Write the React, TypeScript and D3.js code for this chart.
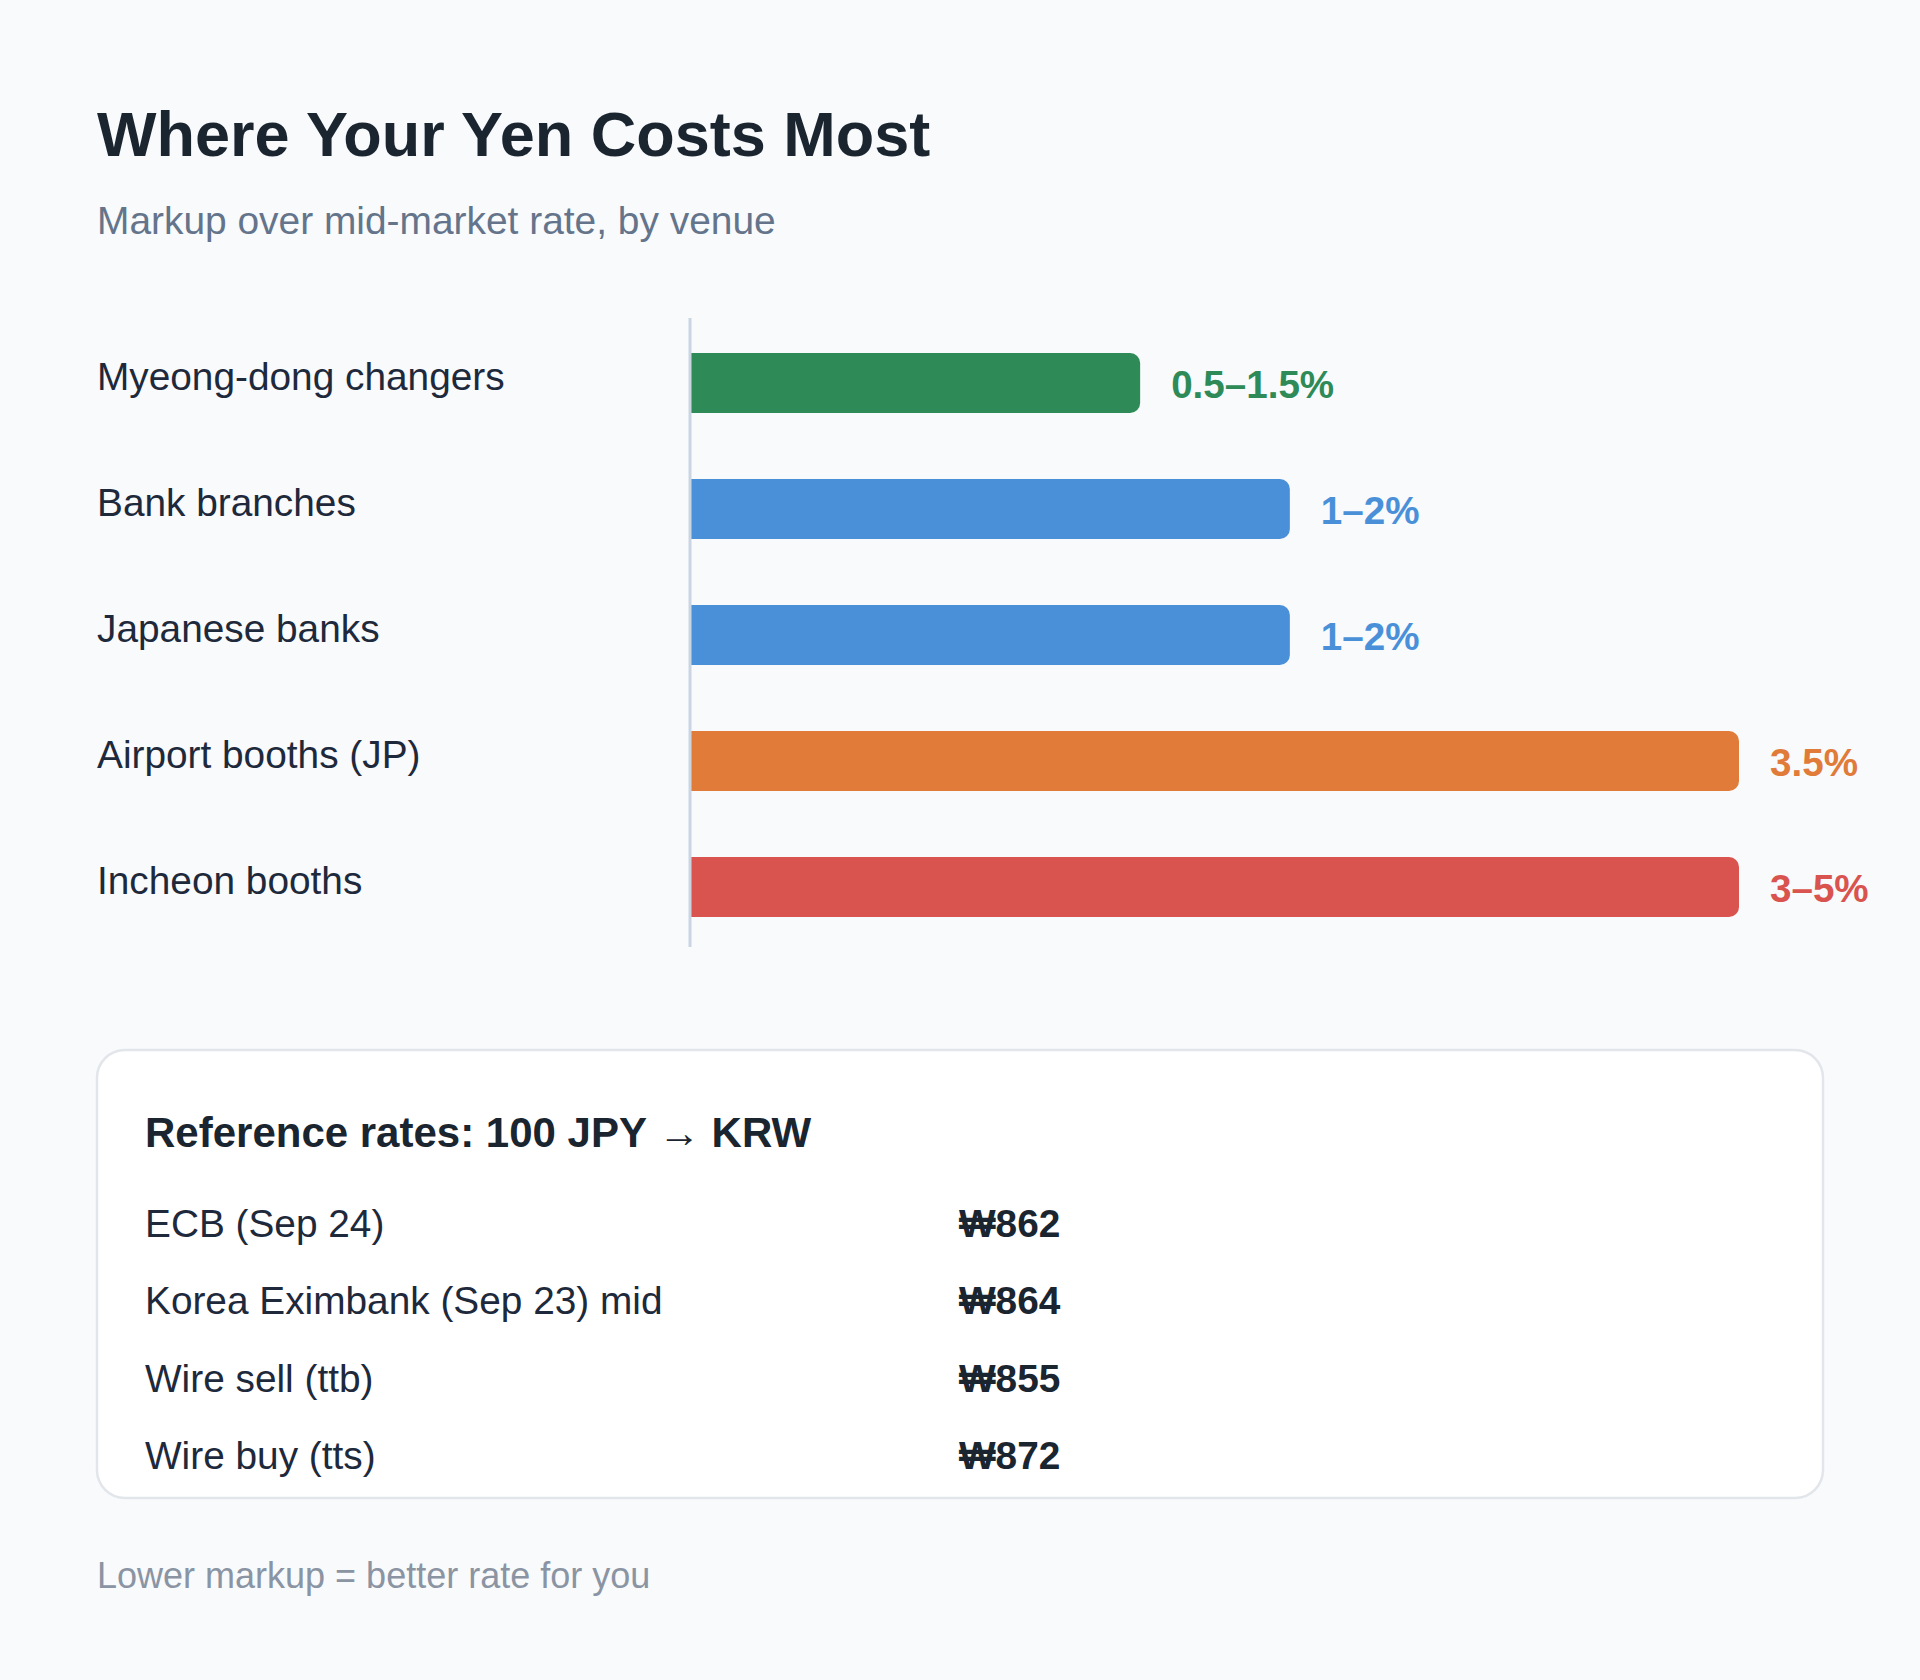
import { useEffect, useRef } from "react";
import * as d3 from "d3";

const venues = [
  "Myeong-dong changers",
  "Bank branches",
  "Japanese banks",
  "Airport booths (JP)",
  "Incheon booths",
];
const markupLabels = ["0.5–1.5%", "1–2%", "1–2%", "3.5%", "3–5%"];
// bar length = upper end of the quoted range, capped at the 3.5% scale max
const markupValues = [1.5, 2, 2, 3.5, 3.5];
const venueColors = ["#2e8b57", "#4a90d9", "#4a90d9", "#e07b39", "#d9534f"];

const rateNames = [
  "ECB (Sep 24)",
  "Korea Eximbank (Sep 23) mid",
  "Wire sell (ttb)",
  "Wire buy (tts)",
];
const rateValues = [862, 864, 855, 872];

const FONT = "'Liberation Sans', Arial, Helvetica, sans-serif";

export default function App() {
  const svgRef = useRef<SVGSVGElement | null>(null);

  useEffect(() => {
    document.body.style.margin = "0";
    if (!svgRef.current) return;

    const width = 1920;
    const height = 1680;
    const svg = d3.select(svgRef.current);
    svg.selectAll("*").remove();
    svg.attr("viewBox", `0 0 ${width} ${height}`).attr("font-family", FONT);

    svg.append("rect").attr("width", width).attr("height", height).attr("fill", "#f8fafc");

    svg
      .append("text")
      .attr("x", 97)
      .attr("y", 156)
      .attr("font-size", 63)
      .attr("font-weight", 700)
      .attr("fill", "#1a2530")
      .text("Where Your Yen Costs Most");

    svg
      .append("text")
      .attr("x", 97)
      .attr("y", 234)
      .attr("font-size", 38.9)
      .attr("fill", "#64748b")
      .text("Markup over mid-market rate, by venue");

    // bar chart
    const y = d3.scaleBand().domain(venues).range([320, 950]);
    const x = d3.scaleLinear().domain([0, 3.5]).range([691, 1739]);
    const barH = 60;
    const rows = venues.map((v, i) => ({
      venue: v,
      label: markupLabels[i],
      value: markupValues[i],
      color: venueColors[i],
    }));

    const chart = svg.append("g");

    chart
      .selectAll("text.venue")
      .data(rows)
      .join("text")
      .attr("class", "venue")
      .attr("x", 97)
      .attr("y", (d) => (y(d.venue) ?? 0) + y.bandwidth() / 2 + 7)
      .attr("font-size", 38.8)
      .attr("fill", "#1e293b")
      .text((d) => d.venue);

    chart
      .selectAll("path.bar")
      .data(rows)
      .join("path")
      .attr("class", "bar")
      .attr("fill", (d) => d.color)
      .attr("d", (d) => {
        const x0 = x(0);
        const x1 = x(d.value);
        const y0 = (y(d.venue) ?? 0) + y.bandwidth() / 2 - barH / 2;
        const r = 10;
        const p = d3.path();
        p.moveTo(x0, y0);
        p.lineTo(x1 - r, y0);
        p.arcTo(x1, y0, x1, y0 + r, r);
        p.lineTo(x1, y0 + barH - r);
        p.arcTo(x1, y0 + barH, x1 - r, y0 + barH, r);
        p.lineTo(x0, y0 + barH);
        p.closePath();
        return p.toString();
      });

    chart
      .append("line")
      .attr("x1", x(0) - 1)
      .attr("x2", x(0) - 1)
      .attr("y1", 318)
      .attr("y2", 947)
      .attr("stroke", "#cbd5e1")
      .attr("stroke-width", 3);

    chart
      .selectAll("text.value")
      .data(rows)
      .join("text")
      .attr("class", "value")
      .attr("x", (d) => x(d.value) + 31)
      .attr("y", (d) => (y(d.venue) ?? 0) + y.bandwidth() / 2 + 15)
      .attr("font-size", 38.6)
      .attr("font-weight", 700)
      .attr("fill", (d) => d.color)
      .text((d) => d.label);

    // reference rates card
    const card = svg.append("g");
    card
      .append("rect")
      .attr("x", 97)
      .attr("y", 1050)
      .attr("width", 1726)
      .attr("height", 448)
      .attr("rx", 28)
      .attr("fill", "#ffffff")
      .attr("stroke", "#e2e5ea")
      .attr("stroke-width", 2.5);

    card
      .append("text")
      .attr("x", 145)
      .attr("y", 1147)
      .attr("font-size", 42)
      .attr("font-weight", 700)
      .attr("fill", "#1a2530")
      .text("Reference rates: 100 JPY → KRW");

    const ry = d3.scalePoint().domain(rateNames).range([1237, 1469]);
    const rates = rateNames.map((n, i) => ({ name: n, value: rateValues[i] }));

    card
      .selectAll("text.rname")
      .data(rates)
      .join("text")
      .attr("class", "rname")
      .attr("x", 145)
      .attr("y", (d) => ry(d.name) ?? 0)
      .attr("font-size", 38.8)
      .attr("fill", "#1e293b")
      .text((d) => d.name);

    card
      .selectAll("text.rval")
      .data(rates)
      .join("text")
      .attr("class", "rval")
      .attr("x", 959)
      .attr("y", (d) => ry(d.name) ?? 0)
      .attr("font-size", 38.8)
      .attr("font-weight", 700)
      .attr("fill", "#1a2530")
      .text((d) => `₩${d.value}`);

    svg
      .append("text")
      .attr("x", 97)
      .attr("y", 1588)
      .attr("font-size", 36)
      .attr("fill", "#8a94a3")
      .text("Lower markup = better rate for you");
  }, []);

  return <svg ref={svgRef} width={1920} height={1680} style={{ display: "block" }} />;
}
